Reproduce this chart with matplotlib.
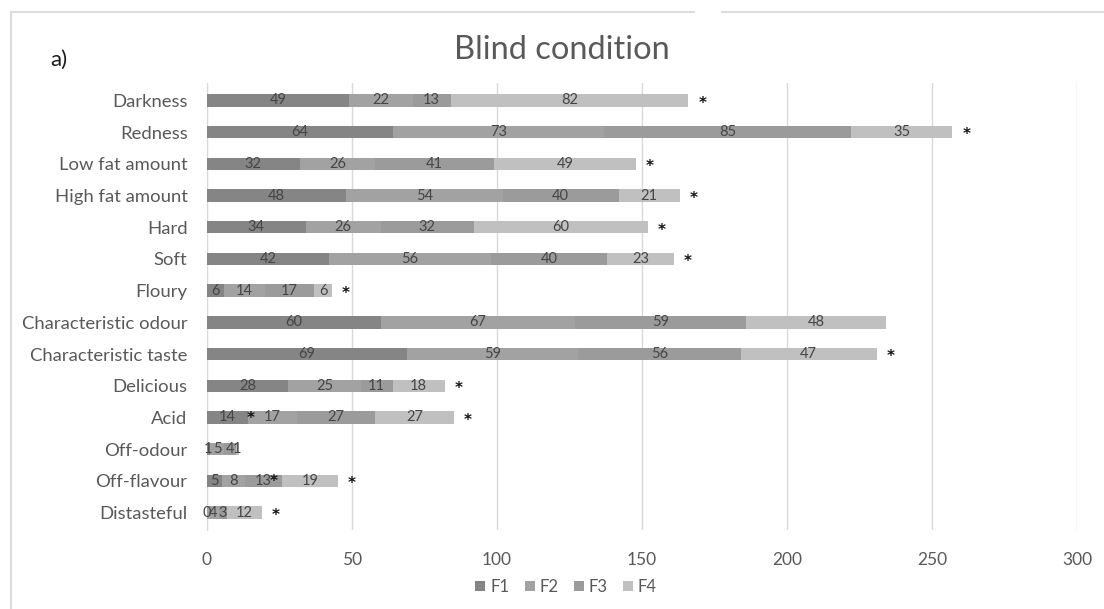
import numpy as np
import matplotlib
matplotlib.use('Agg')
import matplotlib.pyplot as plt
from matplotlib.lines import Line2D

plt.rcParams['font.family'] = ['Lato', 'DejaVu Sans']

# data, top to bottom as in the chart
attributes = ['Darkness', 'Redness', 'Low fat amount', 'High fat amount', 'Hard',
              'Soft', 'Floury', 'Characteristic odour', 'Characteristic taste',
              'Delicious', 'Acid', 'Off-odour', 'Off-flavour', 'Distasteful']
f1 = [49, 64, 32, 48, 34, 42, 6, 60, 69, 28, 14, 1, 5, 0]
f2 = [22, 73, 26, 54, 26, 56, 14, 67, 59, 25, 17, 5, 8, 4]
f3 = [13, 85, 41, 40, 32, 40, 17, 59, 56, 11, 27, 4, 13, 3]
f4 = [82, 35, 49, 21, 60, 23, 6, 48, 47, 18, 27, 1, 19, 12]
series_names = ['F1', 'F2', 'F3', 'F4']
# significance marks after the bar end
significant = [True, True, True, True, True, True, True, False, True,
               True, True, False, True, True]
# extra asterisks drawn inside bars (attribute, x value)
inner_marks = [('Acid', 15), ('Off-flavour', 23)]
x_ticks = [0, 50, 100, 150, 200, 250, 300]

colors = ['#858585', '#a2a2a2', '#9b9b9b', '#c0c0c0']
grey_txt = '#595959'
star_font = ['DejaVu Sans']

fig = plt.figure(figsize=(11.04, 6.09), dpi=100)
ax = fig.add_axes([207 / 1104, 1 - 530 / 609, 870 / 1104, 447 / 609])

y = np.arange(len(attributes))
left = np.zeros(len(attributes))
for vals, name, c in zip([f1, f2, f3, f4], series_names, colors):
    vals = np.array(vals)
    bars = ax.barh(y, vals, left=left, height=0.39, color=c, label=name, zorder=2)
    for b, v in zip(bars, vals):
        ax.text(b.get_x() + b.get_width() / 2, b.get_y() + b.get_height() / 2,
                str(v), ha='center', va='center', fontsize=10.5, color='#454545',
                zorder=3)
    left += vals

totals = left
for yi, tot, sig in zip(y, totals, significant):
    if sig:
        ax.annotate('*', (tot, yi), xytext=(10, -2), textcoords='offset points',
                    ha='center', va='center', fontsize=11, color='#111111',
                    fontweight='bold', family=star_font)
for name, xv in inner_marks:
    yi = attributes.index(name)
    ax.annotate('*', (xv, yi), xytext=(0, -0.5), textcoords='offset points',
                ha='center', va='center', fontsize=11, color='#111111',
                fontweight='bold', family=star_font, zorder=4)

ax.set_xlim(0, 300)
ax.set_ylim(len(attributes) - 1 + 0.55, -0.55)
ax.set_xticks(x_ticks)
ax.set_yticks(y)
ax.set_yticklabels(attributes)
ax.tick_params(axis='both', length=0, labelsize=13.3, colors=grey_txt)
ax.tick_params(axis='x', labelsize=12.5, pad=16)
ax.tick_params(axis='y', pad=14)
ax.grid(axis='x', color='#d9d9d9', linewidth=1, zorder=0)
for s in ['top', 'right', 'bottom']:
    ax.spines[s].set_visible(False)
ax.spines['left'].set_color('#d9d9d9')
ax.spines['left'].set_zorder(1)

fig.text(562 / 1104, 1 - 50 / 609, 'Blind condition', ha='center', va='center',
         fontsize=23.5, color=grey_txt)
fig.text(59 / 1104, 1 - 60 / 609, 'a)', ha='center', va='center',
         fontsize=16, color='#1a1a1a')

handles, labels = ax.get_legend_handles_labels()
fig.legend(handles, labels, loc='center', bbox_to_anchor=(566 / 1104, 1 - 587 / 609),
           ncol=4, frameon=False, fontsize=12, labelcolor=grey_txt,
           handlelength=0.6, handleheight=0.6, handletextpad=0.3,
           columnspacing=0.9)

# outer frame of the pasted chart
frame_c = '#dcdcdc'
fig.add_artist(Line2D([11 / 1104, 694 / 1104], [1 - 12 / 609] * 2,
                      color=frame_c, linewidth=1.5))
fig.add_artist(Line2D([722 / 1104, 1.0], [1 - 12 / 609] * 2,
                      color=frame_c, linewidth=1.5))
fig.add_artist(Line2D([11 / 1104] * 2, [0, 1 - 12 / 609],
                      color=frame_c, linewidth=1.5))

fig.savefig('out.png', dpi=100)
